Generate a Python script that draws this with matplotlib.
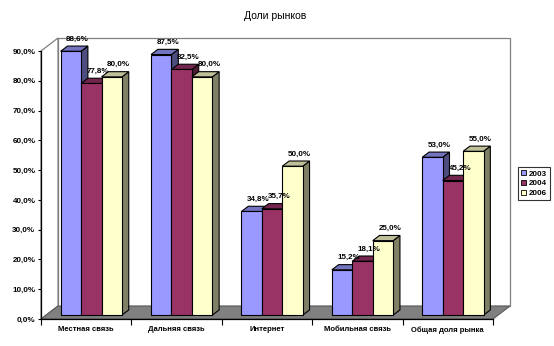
import matplotlib
matplotlib.use("Agg")
import matplotlib.pyplot as plt
from matplotlib.patches import Polygon, Patch
from matplotlib.ticker import FuncFormatter

plt.rcParams['font.family'] = ['Liberation Sans', 'DejaVu Sans']

# data
categories = ["Местная связь", "Дальняя связь", "Интернет", "Мобильная связь", "Общая доля рынка"]
years = ["2003", "2004", "2006"]
share_2003 = [88.6, 87.5, 34.8, 15.2, 53.0]
share_2004 = [77.8, 82.5, 35.7, 18.1, 45.2]
share_2006 = [80.0, 80.0, 50.0, 25.0, 55.0]
series = [share_2003, share_2004, share_2006]

# excel-like colours: front, top, side
face_cols = ["#9999FF", "#993366", "#FFFFCC"]
top_cols = ["#7373BF", "#73264D", "#BFBF99"]
side_cols = ["#4D4D80", "#4D1A33", "#808066"]

# 3d depth of the plot box in data units
DX = 17 / 90.4
DY = 13 / 2.978
bar_w = 0.226
sx, sy = 0.3 * DX, 0.3 * DY      # bars start a bit behind front plane
bdx, bdy = 0.4 * DX, 0.4 * DY    # bar depth

fig = plt.figure(figsize=(5.54, 3.46), dpi=100)
ax = fig.add_axes([41 / 554, 27 / 346, 452 / 554, 268 / 346])
ax.set_xlim(0, 5)
ax.set_ylim(0, 90)

wall = "#808080"
n = len(categories)
# back wall, side wall, floor
ax.add_patch(Polygon([(DX, DY), (n + DX, DY), (n + DX, 90 + DY), (DX, 90 + DY)],
                     closed=True, fc="white", ec=wall, lw=0.9, zorder=0, clip_on=False))
ax.add_patch(Polygon([(0, 0), (DX, DY), (DX, 90 + DY), (0, 90)],
                     closed=True, fc="white", ec=wall, lw=0.9, zorder=0, clip_on=False))
ax.add_patch(Polygon([(0, 0), (n, 0), (n + DX, DY), (DX, DY)],
                     closed=True, fc=wall, ec="#5a5a5a", lw=0.8, zorder=0.5, clip_on=False))

for i in range(n):
    for j, vals in enumerate(series):
        v = vals[i]
        xl = i + 0.5 + sx - 1.5 * bar_w + j * bar_w
        z = 2 + i * 10 + j * 3
        top = sy + v
        ax.add_patch(Polygon([(xl + bar_w, sy), (xl + bar_w + bdx, sy + bdy),
                              (xl + bar_w + bdx, top + bdy), (xl + bar_w, top)],
                             closed=True, fc=side_cols[j], ec="black", lw=0.8,
                             zorder=z, clip_on=False))
        ax.add_patch(Polygon([(xl, top), (xl + bar_w, top), (xl + bar_w + bdx, top + bdy),
                              (xl + bdx, top + bdy)],
                             closed=True, fc=top_cols[j], ec="black", lw=0.8,
                             zorder=z + 1, clip_on=False))
        ax.bar(xl, v, width=bar_w, bottom=sy, align="edge", color=face_cols[j],
               edgecolor="black", linewidth=0.8, zorder=z + 2, clip_on=False)
        ax.annotate(f"{v:.1f}%".replace(".", ","), (xl + bar_w / 2 + bdx, top + bdy),
                    xytext=(0, 2.5), textcoords="offset points", ha="center", va="bottom",
                    fontsize=5.8, fontweight="bold", zorder=100, annotation_clip=False)

# axes
for s in ["top", "right"]:
    ax.spines[s].set_visible(False)
ax.spines["left"].set_linewidth(0.9)
ax.spines["bottom"].set_linewidth(0.9)
ax.spines["left"].set_zorder(60)
ax.spines["bottom"].set_zorder(60)
ax.set_yticks(range(0, 91, 10))
ax.yaxis.set_major_formatter(FuncFormatter(lambda y, p: f"{y:.1f}%".replace(".", ",")))
ax.tick_params(axis="y", direction="out", length=2.5, width=0.8, pad=1.5,
               labelsize=5.8)
ax.set_xticks(range(0, n + 1))
ax.set_xticklabels([])
ax.set_xticks([i + 0.5 for i in range(n)], minor=True)
ax.set_xticklabels(categories, minor=True, fontsize=5.5)
ax.tick_params(axis="x", which="major", direction="out", length=4, width=0.8)
ax.tick_params(axis="x", which="minor", length=0, pad=5)
for lab in ax.get_yticklabels() + ax.get_xticklabels(minor=True):
    lab.set_fontweight("bold")

fig.text(0.497, 1 - 16 / 346, "Доли рынков", ha="center", va="center", fontsize=7.5)

handles = [Patch(fc=face_cols[j], ec="black", lw=0.6) for j in range(3)]
leg = fig.legend(handles, years, loc="upper left", bbox_to_anchor=(518 / 554, 1 - 167 / 346),
                 fontsize=5.8, frameon=True, fancybox=False, handlelength=0.6,
                 handleheight=0.6, handletextpad=0.3, borderpad=0.4, labelspacing=0.3,
                 borderaxespad=0)
leg.get_frame().set_edgecolor("black")
leg.get_frame().set_linewidth(0.8)
for t in leg.get_texts():
    t.set_fontweight("bold")

fig.savefig("out.png", dpi=100)
